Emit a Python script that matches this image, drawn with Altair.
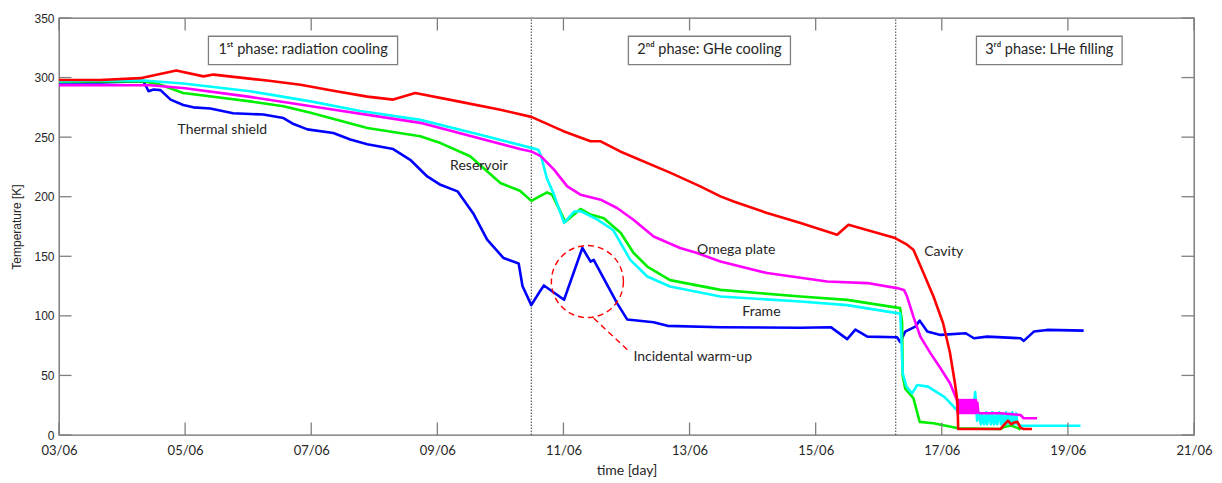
import altair as alt
import pandas as pd

# ---------------- data (day of June, temperature in K) ----------------
cavity_day = [3.00, 3.65, 4.29, 4.86, 5.29, 5.45, 5.77, 6.30, 6.83, 7.35, 7.89, 8.30, 8.65,
              9.37, 10.00, 10.49, 11.00, 11.43, 11.59, 11.90, 12.70, 13.17, 13.49, 13.70,
              14.23, 14.76, 15.34, 15.52, 16.26, 16.45, 16.55, 16.71, 16.87, 17.02, 17.13,
              17.21, 17.25, 17.26, 17.93, 17.98, 18.05, 18.10, 18.15, 18.20, 18.25, 18.30, 18.43]
cavity_temp = [298, 298, 299.5, 306, 301, 302.5, 300.6, 297.5, 294, 289, 284, 281.5, 287,
               279.6, 273, 267, 255, 246.5, 246.5, 238, 220, 208.7, 200.3, 196,
               186.3, 178, 168, 176.5, 165.3, 159.7, 155.5, 136, 116, 94, 69,
               43, 27, 5, 5, 8, 12, 9, 10.5, 11, 6, 5, 5]

omega_day = [3.00, 4.45, 5.00, 6.00, 7.00, 8.73, 10.31, 10.49, 10.64, 10.85, 11.06, 11.27,
             11.59, 11.85, 12.11, 12.43, 12.85, 13.12, 13.49, 14.23, 15.18, 15.82, 16.29,
             16.40, 16.45, 16.55, 16.66, 16.82, 16.98, 17.13, 17.24,
             17.2525, 17.265, 17.2775, 17.29, 17.3025, 17.315, 17.3275, 17.34, 17.3525,
             17.365, 17.3775, 17.39, 17.4025, 17.415, 17.4275, 17.44, 17.4525, 17.465,
             17.4775, 17.49, 17.5025, 17.515, 17.5275, 17.54, 17.5525, 17.565, 17.5775,
             17.61, 17.93, 18.25, 18.30, 18.51]
omega_temp = [293.5, 293.5, 291, 284, 276, 262, 240, 238, 234, 222.7, 208.7, 201.7,
              197.5, 190.5, 180.7, 166.6, 157, 152.7, 145.6, 135.9, 128.8, 127.5, 123.3,
              121.8, 116.2, 99.4, 82.6, 68.7, 56, 43.4, 29.4,
              18.5, 29.4, 18.5, 29.4, 18.5, 29.4, 18.5, 29.4, 18.5,
              29.4, 18.5, 29.4, 18.5, 29.4, 18.5, 29.4, 18.5, 29.4,
              18.5, 29.4, 18.5, 29.4, 18.5, 29.4, 18.5, 27, 19,
              18.2, 18.2, 16.8, 14, 14]

frame_day = [3.00, 3.92, 4.34, 4.97, 6.03, 6.99, 7.78, 8.73, 9.68, 10.49, 10.60, 10.64,
             10.74, 10.84, 11.01, 11.17, 11.27, 11.54, 11.79, 12.06, 12.33, 12.69, 13.49,
             14.76, 15.50, 16.29, 16.34, 16.36, 16.38, 16.44, 16.53, 16.61, 16.78, 17.04,
             17.24, 17.50, 17.53, 17.56, 17.59, 17.62, 17.64, 17.67, 17.70, 17.72, 17.75,
             17.78, 17.80, 17.83, 17.86, 17.88, 17.91, 17.94, 17.96, 17.99, 18.02, 18.04,
             18.07, 18.10, 18.12, 18.15, 18.18, 18.20, 18.25, 19.20]
frame_temp = [297, 297.7, 297.5, 295, 288.5, 280, 272, 264.5, 252, 241, 239.5, 235,
              215, 203, 178, 187.5, 188, 180.7, 172, 147, 133, 124.6, 116.2,
              112, 109, 102.3, 102, 80, 52, 40.6, 35, 42, 40.6, 32,
              21, 21, 36, 12, 19, 9, 18, 9, 19, 9, 18,
              9, 19, 9, 18, 9, 19, 9, 18, 9, 19, 9,
              18, 9, 19, 9, 18, 9, 7.8, 7.8]

reservoir_day = [3.00, 4.34, 4.61, 4.97, 5.51, 6.03, 6.56, 6.99, 7.89, 8.73, 9.05, 9.52,
                 10.00, 10.31, 10.49, 10.74, 10.82, 11.03, 11.27, 11.43, 11.64, 11.91, 12.11,
                 12.33, 12.69, 13.49, 14.76, 15.50, 16.34, 16.37, 16.38, 16.42, 16.55, 16.60,
                 16.65, 16.87, 17.26, 17.93, 18.00, 18.10, 18.20, 18.25]
reservoir_temp = [296.5, 297, 294, 287, 283.5, 280, 276, 270.5, 257.7, 250.7, 245, 234,
                  211.5, 205, 196.5, 203.6, 201.7, 179, 189.7, 185, 182, 169.5, 153,
                  141.4, 130, 121.8, 116.2, 113.4, 106.5, 95, 50, 39, 31, 21,
                  11, 9.8, 5.6, 5, 7, 8, 6, 4.5]

shield_day = [3.00, 3.66, 4.34, 4.42, 4.50, 4.61, 4.77, 4.97, 5.13, 5.40, 5.76, 6.24, 6.56,
              6.72, 6.94, 7.35, 7.62, 7.89, 8.30, 8.57, 8.84, 9.05, 9.32, 9.57, 9.79, 10.05,
              10.29, 10.35, 10.49, 10.62, 10.69, 11.01, 11.30, 11.43, 11.48, 11.85, 12.01,
              12.43, 12.65, 13.49, 14.76, 15.24, 15.50, 15.63, 15.82, 16.29, 16.34, 16.42,
              16.58, 16.65, 16.77, 16.98, 17.38, 17.51, 17.72, 18.25, 18.30, 18.46, 18.67, 19.25]
shield_temp = [296, 296, 297, 288.5, 290, 289.5, 281.5, 277, 275, 274, 270, 269, 266,
               261, 256.5, 253.5, 248, 244, 240, 231, 217, 210, 204.5, 186, 164, 148.5,
               144, 125, 109, 120, 125.5, 113.5, 157, 145.5, 147, 110.7, 97,
               94.7, 91.6, 90.5, 90, 90.5, 80.5, 88.5, 82.6, 82, 78, 86.8,
               91, 96, 86.8, 84, 85.4, 81.2, 82.6, 81.2, 79, 86.8, 88.2, 87.6]

phase_day = [10.49, 16.27]

box_x = [5.37, 12.03, 17.55]
box_x2 = [8.37, 14.60, 19.86]
box_y = [310.9, 310.9, 310.9]
box_y2 = [334.7, 334.7, 334.7]
box_text = ["1ˢᵗ phase: radiation cooling", "2ⁿᵈ phase: GHe cooling", "3ʳᵈ phase: LHe filling"]

label_text = ["Thermal shield", "Reservoir", "Omega plate", "Frame", "Cavity", "Incidental warm-up"]
label_day = [5.59, 9.66, 13.74, 14.14, 17.03, 13.05]
label_temp = [256.3, 225.5, 155.5, 103.6, 154.0, 65.8]

circle_day = [11.38]
circle_temp = [128.8]
pointer_day = [11.48]
pointer_temp = [98.0]
pointer_day2 = [12.03]
pointer_temp2 = [70.8]

xtick_days = [3, 5, 7, 9, 11, 13, 15, 17, 19, 21]
ytick_vals = [0, 50, 100, 150, 200, 250, 300, 350]

# ---------------- chart ----------------
GRAY = "#7f7f7f"
TXT = "#262626"

xscale = alt.Scale(domain=[3, 21], nice=False, zero=False)
yscale = alt.Scale(domain=[0, 350], nice=False, zero=True)
xaxis = alt.Axis(values=xtick_days,
                 labelExpr="(datum.value < 10 ? '0' : '') + datum.value + '/06'",
                 ticks=False, domain=False, grid=False, labelFlush=False, labelOverlap=False,
                 labelFont="Lato", labelFontSize=13, labelColor=TXT, labelPadding=9,
                 titleFont="Lato", titleFontSize=14, titleFontWeight="normal",
                 titleColor=TXT, titlePadding=6)
yaxis = alt.Axis(values=ytick_vals, ticks=False, domain=False, grid=False,
                 labelFlush=False, labelOverlap=False,
                 labelFont="Liberation Sans", labelFontSize=12, labelColor=TXT, labelPadding=5,
                 titleFont="Liberation Sans", titleFontSize=12, titleFontWeight="normal",
                 titleColor=TXT, titlePadding=10)


def X(field):
    return alt.X(field, type="quantitative", scale=xscale, axis=xaxis, title="time [day]")


def Y(field):
    return alt.Y(field, type="quantitative", scale=yscale, axis=yaxis, title="Temperature [K]")


layers = []

# phase separators
phase_df = pd.DataFrame({"day": phase_day, "lo": [0] * len(phase_day), "hi": [350] * len(phase_day)})
layers.append(
    alt.Chart(phase_df).mark_rule(color="#404040", strokeWidth=1, strokeDash=[1.5, 1.5]).encode(
        x=X("day"), y=Y("lo"), y2="hi")
)

series = [
    ("Thermal shield", shield_day, shield_temp, "#0000ff"),
    ("Reservoir", reservoir_day, reservoir_temp, "#00ee00"),
    ("Frame", frame_day, frame_temp, "#00ffff"),
    ("Omega plate", omega_day, omega_temp, "#ff00ff"),
    ("Cavity", cavity_day, cavity_temp, "#ff0000"),
]
for name, d, t, c in series:
    df = pd.DataFrame({"day": d, "temp": t, "idx": list(range(len(d)))})
    layers.append(
        alt.Chart(df).mark_line(color=c, strokeWidth=2.6, strokeJoin="round").encode(
            x=X("day"), y=Y("temp"), order="idx:Q")
    )

# phase boxes
box_df = pd.DataFrame({"x": box_x, "x2": box_x2, "y": box_y, "y2": box_y2, "text": box_text,
                       "xc": [(a + b) / 2 for a, b in zip(box_x, box_x2)],
                       "yc": [(a + b) / 2 for a, b in zip(box_y, box_y2)]})
layers.append(
    alt.Chart(box_df).mark_rect(fill="white", stroke=GRAY, strokeWidth=1.3).encode(
        x=X("x"), x2="x2", y=Y("y"), y2="y2")
)
layers.append(
    alt.Chart(box_df).mark_text(font="Lato", fontSize=14.5, color=TXT, baseline="middle",
                                align="center").encode(x=X("xc"), y=Y("yc"), text="text:N")
)

# curve labels
lab_df = pd.DataFrame({"day": label_day, "temp": label_temp, "text": label_text})
layers.append(
    alt.Chart(lab_df).mark_text(font="Lato", fontSize=14, color=TXT, baseline="middle",
                                align="center").encode(x=X("day"), y=Y("temp"), text="text:N")
)

# warm-up highlight
circ_df = pd.DataFrame({"day": circle_day, "temp": circle_temp})
layers.append(
    alt.Chart(circ_df).mark_point(shape="circle", filled=False, color="#ff0000", size=5184,
                                  strokeWidth=1.4, strokeDash=[6, 4], opacity=1).encode(
        x=X("day"), y=Y("temp"))
)
ptr_df = pd.DataFrame({"x": pointer_day, "y": pointer_temp, "x2": pointer_day2, "y2": pointer_temp2})
layers.append(
    alt.Chart(ptr_df).mark_rule(color="#ff0000", strokeWidth=1.4, strokeDash=[6, 4]).encode(
        x=X("x"), y=Y("y"), x2="x2", y2="y2")
)

# inward ticks (box style)
xt_df = pd.DataFrame({"v": xtick_days})
yt_df = pd.DataFrame({"v": ytick_vals})
tick_style = dict(color=GRAY, strokeWidth=1.3)
layers.append(alt.Chart(xt_df).mark_rule(**tick_style).encode(
    x=X("v"), y=alt.value(417), y2=alt.value(404.5)))
layers.append(alt.Chart(xt_df).mark_rule(**tick_style).encode(
    x=X("v"), y=alt.value(0), y2=alt.value(12.5)))
layers.append(alt.Chart(yt_df).mark_rule(**tick_style).encode(
    y=Y("v"), x=alt.value(0), x2=alt.value(12.5)))
layers.append(alt.Chart(yt_df).mark_rule(**tick_style).encode(
    y=Y("v"), x=alt.value(1135), x2=alt.value(1122.5)))

chart = alt.layer(*layers).properties(
    width=1135, height=417,
    autosize=alt.AutoSizeParams(type="none"),
    padding={"left": 51, "top": 10, "right": 19, "bottom": 45},
    background="white",
).configure_view(stroke="#6b6b6b", strokeWidth=1.3)

chart.save("out.html", embed_options={"renderer": "svg", "actions": False})
